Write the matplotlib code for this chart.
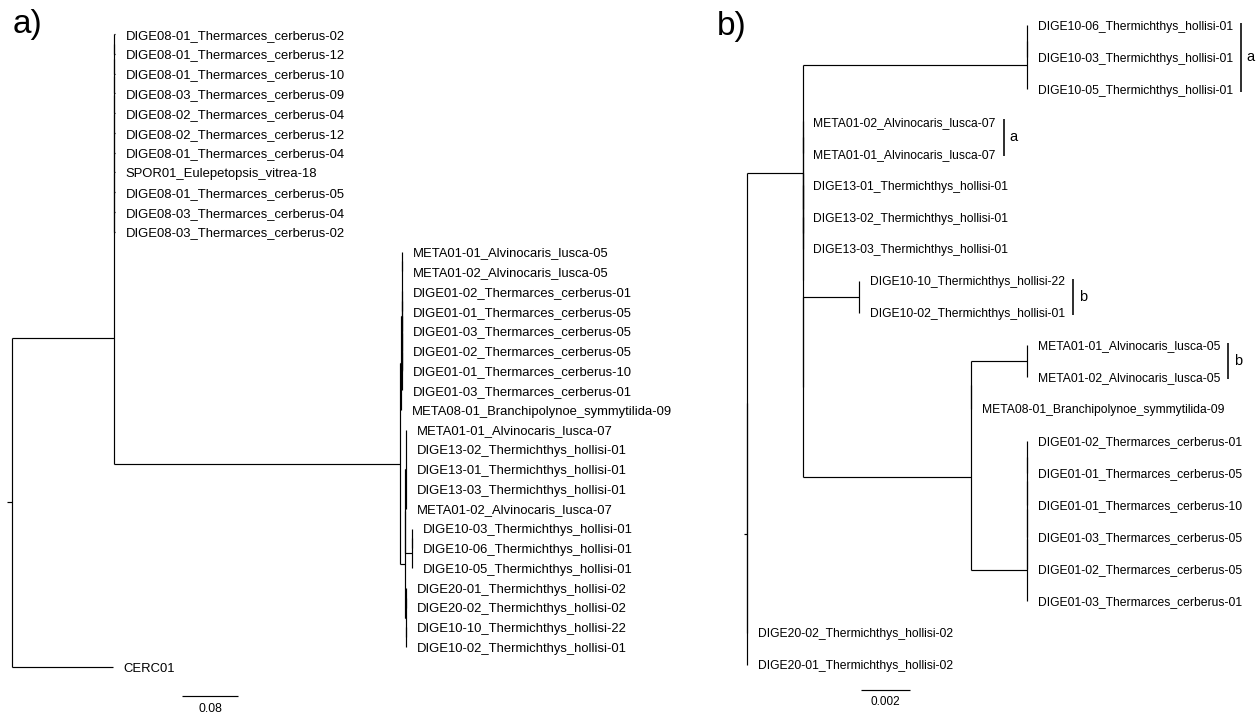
import matplotlib
matplotlib.use("Agg")
import matplotlib.pyplot as plt
from matplotlib.collections import LineCollection

plt.rcParams['font.family'] = ['Liberation Sans', 'DejaVu Sans']

# ============================ DATA ============================
# ---- panel a: leaf labels (top to bottom) ----
A_OUTGROUP = "CERC01"
A_CLADE1 = ["DIGE08-01_Thermarces_cerberus-02", "DIGE08-01_Thermarces_cerberus-12",
            "DIGE08-01_Thermarces_cerberus-10", "DIGE08-03_Thermarces_cerberus-09",
            "DIGE08-02_Thermarces_cerberus-04", "DIGE08-02_Thermarces_cerberus-12",
            "DIGE08-01_Thermarces_cerberus-04", "SPOR01_Eulepetopsis_vitrea-18",
            "DIGE08-01_Thermarces_cerberus-05", "DIGE08-03_Thermarces_cerberus-04",
            "DIGE08-03_Thermarces_cerberus-02"]
A_LUSCA05 = ["META01-01_Alvinocaris_lusca-05", "META01-02_Alvinocaris_lusca-05"]
A_CERB01 = ["DIGE01-02_Thermarces_cerberus-01", "DIGE01-01_Thermarces_cerberus-05",
            "DIGE01-03_Thermarces_cerberus-05", "DIGE01-02_Thermarces_cerberus-05",
            "DIGE01-01_Thermarces_cerberus-10", "DIGE01-03_Thermarces_cerberus-01"]
A_BRANCHI = "META08-01_Branchipolynoe_symmytilida-09"
A_HOLL13 = ["META01-01_Alvinocaris_lusca-07", "DIGE13-02_Thermichthys_hollisi-01",
            "DIGE13-01_Thermichthys_hollisi-01", "DIGE13-03_Thermichthys_hollisi-01",
            "META01-02_Alvinocaris_lusca-07"]
A_HOLL10 = ["DIGE10-03_Thermichthys_hollisi-01", "DIGE10-06_Thermichthys_hollisi-01",
            "DIGE10-05_Thermichthys_hollisi-01"]
A_HOLL20A = ["DIGE20-01_Thermichthys_hollisi-02", "DIGE20-02_Thermichthys_hollisi-02"]
A_HOLL20B = ["DIGE10-10_Thermichthys_hollisi-22", "DIGE10-02_Thermichthys_hollisi-01"]
# ---- panel a: branch lengths (substitutions/site) ----
A_LEN_INGROUP = 0.1464
A_LEN_OUTGROUP = 0.145
A_LEN_CLADE2 = 0.4086
A_LEN_VENT = 0.002
A_LEN_HOLL = 0.007
A_LEN_HOLL10 = 0.0093
A_LEN_HOLL20 = 0.001
A_LEN_TINY = 0.0005
A_LEN_TIP1 = 0.0015
A_SCALE = 0.08

# ---- panel b: leaf labels (top to bottom) ----
B_HOLL10 = ["DIGE10-06_Thermichthys_hollisi-01", "DIGE10-03_Thermichthys_hollisi-01",
            "DIGE10-05_Thermichthys_hollisi-01"]
B_LUSCA07 = ["META01-02_Alvinocaris_lusca-07", "META01-01_Alvinocaris_lusca-07"]
B_HOLL13 = ["DIGE13-01_Thermichthys_hollisi-01", "DIGE13-02_Thermichthys_hollisi-01",
            "DIGE13-03_Thermichthys_hollisi-01"]
B_HOLL10B = ["DIGE10-10_Thermichthys_hollisi-22", "DIGE10-02_Thermichthys_hollisi-01"]
B_LUSCA05 = ["META01-01_Alvinocaris_lusca-05", "META01-02_Alvinocaris_lusca-05"]
B_BRANCHI = "META08-01_Branchipolynoe_symmytilida-09"
B_CERB01 = ["DIGE01-02_Thermarces_cerberus-01", "DIGE01-01_Thermarces_cerberus-05",
            "DIGE01-01_Thermarces_cerberus-10", "DIGE01-03_Thermarces_cerberus-05",
            "DIGE01-02_Thermarces_cerberus-05", "DIGE01-03_Thermarces_cerberus-01"]
B_HOLL20 = ["DIGE20-02_Thermichthys_hollisi-02", "DIGE20-01_Thermichthys_hollisi-02"]
# ---- panel b: branch lengths ----
B_LEN_CORE = 0.002264
B_LEN_HOLL10 = 0.009142
B_LEN_HOLL10B = 0.002313
B_LEN_VENT = 0.006866
B_LEN_LUSCA05 = 0.002268
B_LEN_CERB01 = 0.002268
B_SCALE = 0.002
B_BRACKETS = [(B_HOLL10, "a"), (B_LUSCA07, "a"), (B_HOLL10B, "b"), (B_LUSCA05, "b")]


# ============================ TREE HELPERS ============================
def leaf(name, length=0.0):
    return {"name": name, "len": length, "ch": []}


def node(children, length=0.0):
    return {"name": None, "len": length, "ch": children}


def ladder(names, tip=0.0, length=0.0):
    n = node([leaf(names[0], tip), leaf(names[1], tip)])
    for nm in names[2:]:
        n = node([n, leaf(nm, tip)])
    n["len"] = length
    return n


def flat(names, tip=0.0, length=0.0):
    return node([leaf(nm, tip) for nm in names], length)


def layout(root):
    counter = [0]

    def rec(n, x):
        n["x"] = x + n["len"]
        if not n["ch"]:
            n["y"] = counter[0]
            counter[0] += 1
        else:
            for c in n["ch"]:
                rec(c, n["x"])
            n["y"] = 0.5 * (n["ch"][0]["y"] + n["ch"][-1]["y"])
    root["len"] = 0.0
    rec(root, 0.0)
    return counter[0]


def collect(n, segs, leaves):
    if n["ch"]:
        segs.append([(n["x"], n["ch"][0]["y"]), (n["x"], n["ch"][-1]["y"])])
        for c in n["ch"]:
            segs.append([(n["x"], c["y"]), (c["x"], c["y"])])
            collect(c, segs, leaves)
    else:
        leaves.append(n)


def draw_tree(ax, root, stub, fs, offset_px, lw):
    segs, leaves = [], []
    collect(root, segs, leaves)
    segs.append([(-stub, root["y"]), (0.0, root["y"])])
    ax.add_collection(LineCollection(segs, colors="black", linewidths=lw,
                                     clip_on=False, capstyle="butt"))
    texts = {}
    for lf in leaves:
        t = ax.annotate(lf["name"], xy=(lf["x"], lf["y"]),
                        xytext=(offset_px * 0.72, -0.358 * fs),
                        textcoords="offset points", ha="left", va="baseline",
                        fontsize=fs, color="black", annotation_clip=False)
        texts[lf["name"]] = (t, lf)
    return texts


# ============================ BUILD TREES ============================
tree_a = node([
    node([
        ladder(A_CLADE1, A_LEN_TIP1, 0.0),
        node([
            node([
                node([flat(A_LUSCA05, A_LEN_TINY, A_LEN_TINY),
                      ladder(A_CERB01, A_LEN_TINY, A_LEN_TINY)], A_LEN_TINY),
                leaf(A_BRANCHI, 0.0)], A_LEN_VENT),
            node([
                node([flat(A_HOLL13, A_LEN_TINY, A_LEN_TINY),
                      ladder(A_HOLL10, A_LEN_TINY, A_LEN_HOLL10)], A_LEN_TINY),
                node([flat(A_HOLL20A, A_LEN_TINY, A_LEN_TINY),
                      flat(A_HOLL20B, A_LEN_TINY, A_LEN_TINY)], A_LEN_HOLL20)], A_LEN_HOLL),
        ], A_LEN_CLADE2),
    ], A_LEN_INGROUP),
    leaf(A_OUTGROUP, A_LEN_OUTGROUP),
])

tree_b = node([
    node([
        node([
            ladder(B_HOLL10, 0.0, B_LEN_HOLL10),
            node([
                node([flat(B_LUSCA07),
                      node([leaf(B_HOLL13[0]), flat(B_HOLL13[1:])])]),
                node([
                    flat(B_HOLL10B, 0.0, B_LEN_HOLL10B),
                    node([
                        node([flat(B_LUSCA05, 0.0, B_LEN_LUSCA05), leaf(B_BRANCHI)]),
                        ladder(B_CERB01, 0.0, B_LEN_CERB01)], B_LEN_VENT),
                ]),
            ]),
        ], B_LEN_CORE),
        leaf(B_HOLL20[0]),
    ]),
    leaf(B_HOLL20[1]),
])

na = layout(tree_a)
nb = layout(tree_b)

# ============================ FIGURE ============================
W, H = 1260, 715
fig = plt.figure(figsize=(W / 100, H / 100), dpi=100)

# panel a : 700 px per unit, leaves from y=34 to y=667
PX_A = 700.0
a_left, a_top, a_bot, a_w = 11.5, 34.0, 667.0, 600.0
ax_a = fig.add_axes([a_left / W, (H - a_bot) / H, a_w / W, (a_bot - a_top) / H])
ax_a.set_xlim(0, a_w / PX_A)
ax_a.set_ylim(na - 1, 0)
ax_a.axis("off")
draw_tree(ax_a, tree_a, stub=4.5 / PX_A, fs=9.4, offset_px=10.5, lw=0.85)

step_a = (a_bot - a_top) / (na - 1)
sa_x0 = (182 - a_left) / PX_A
sa_y = (696 - a_top) / step_a
ax_a.plot([sa_x0, sa_x0 + A_SCALE], [sa_y, sa_y], color="black", lw=0.85,
          clip_on=False, solid_capstyle="butt")
ax_a.text(sa_x0 + A_SCALE / 2, (709.5 - a_top) / step_a, f"{A_SCALE:g}",
          ha="center", va="center", fontsize=8.8, clip_on=False)

# panel b : 24600 px per unit, leaves from y=25.5 to y=664.5
PX_B = 24600.0
b_left, b_top, b_bot, b_w = 746.9, 25.5, 664.5, 500.0
ax_b = fig.add_axes([b_left / W, (H - b_bot) / H, b_w / W, (b_bot - b_top) / H])
ax_b.set_xlim(0, b_w / PX_B)
ax_b.set_ylim(nb - 1, 0)
ax_b.axis("off")
texts_b = draw_tree(ax_b, tree_b, stub=2.8 / PX_B, fs=8.7, offset_px=10.7, lw=0.85)

step_b = (b_bot - b_top) / (nb - 1)
sb_x0 = (861.2 - b_left) / PX_B
sb_y = (690 - b_top) / step_b
ax_b.plot([sb_x0, sb_x0 + B_SCALE], [sb_y, sb_y], color="black", lw=0.85,
          clip_on=False, solid_capstyle="butt")
ax_b.text(sb_x0 + B_SCALE / 2, (702 - b_top) / step_b, f"{B_SCALE:g}",
          ha="center", va="center", fontsize=8.5, clip_on=False)

# brackets placed just right of the longest label in each group
fig.canvas.draw()
renderer = fig.canvas.get_renderer()
inv = ax_b.transData.inverted()
for names, letter in B_BRACKETS:
    x1 = max(texts_b[n][0].get_window_extent(renderer).x1 for n in names)
    ys = [texts_b[n][1]["y"] for n in names]
    xb = inv.transform((x1 + 8.0, 0))[0]
    xl = inv.transform((x1 + 13.5, 0))[0]
    ax_b.plot([xb, xb], [min(ys) - 0.07, max(ys) + 0.07], color="black", lw=1.15,
              clip_on=False, solid_capstyle="butt")
    ax_b.text(xl, 0.5 * (min(ys) + max(ys)), letter, ha="left", va="center",
              fontsize=10.5, clip_on=False)

# panel letters
fig.text(13 / W, 1 - 33.5 / H, "a)", fontsize=24, ha="left", va="baseline")
fig.text(717 / W, 1 - 35 / H, "b)", fontsize=24, ha="left", va="baseline")

fig.savefig("out.png", dpi=100)
